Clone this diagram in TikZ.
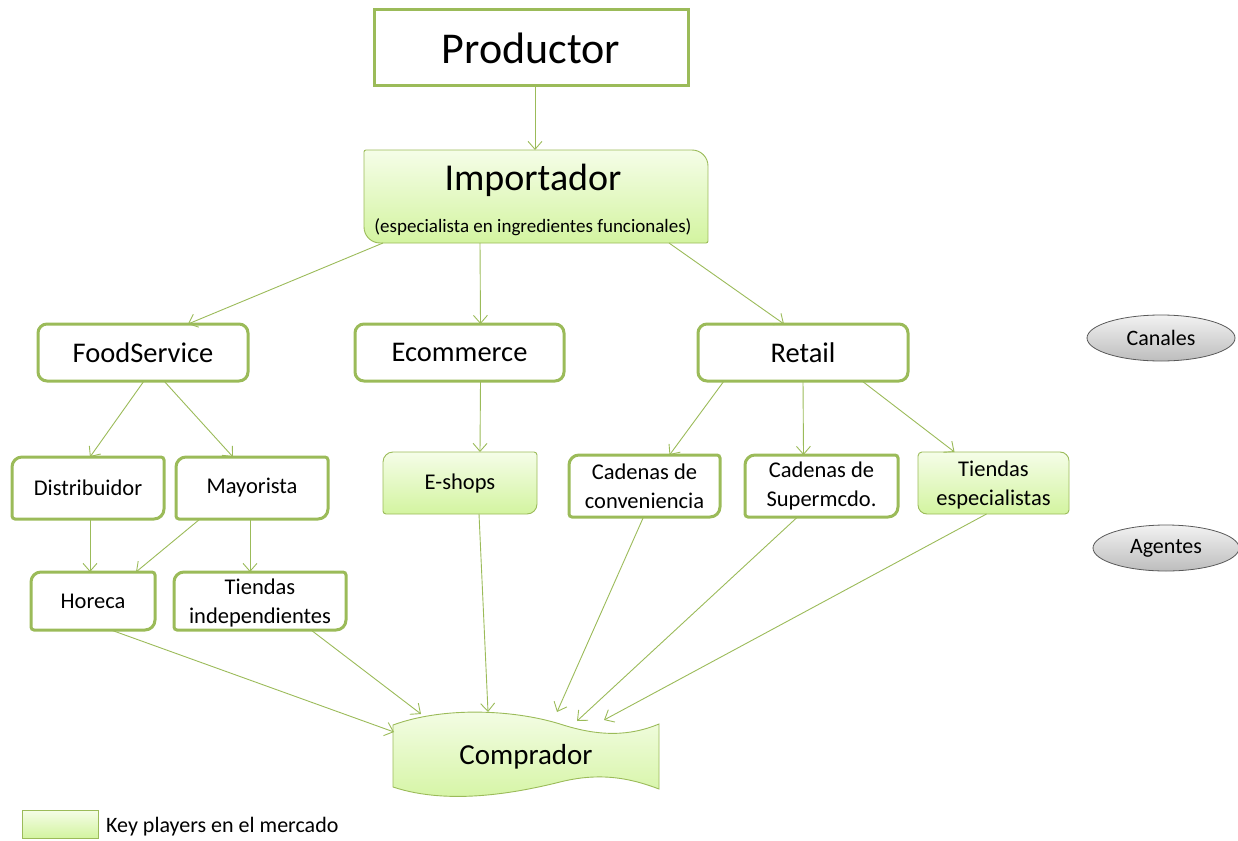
\documentclass[tikz,border=0pt]{standalone}
\usepackage{fontspec}
\setmainfont{Carlito}
\usetikzlibrary{arrows.meta,shapes.geometric,calc}
\definecolor{og}{HTML}{9BBB59}
\definecolor{lgtop}{HTML}{F5FDE8}
\definecolor{lgbot}{HTML}{D3F4A0}
\definecolor{gytop}{HTML}{F2F2F2}
\definecolor{gybot}{HTML}{BDBDBD}
% outline with radius #3 at top-left/bottom-right and #4 at top-right/bottom-left
\newcommand\boxoutline[4]{%
  \path[#1] (#2.north) [rounded corners=#4] -- (#2.north east) -- (#2.east)
    [rounded corners=#3] -- (#2.south east) -- (#2.south)
    [rounded corners=#4] -- (#2.south west) -- (#2.west)
    [rounded corners=#3] -- (#2.north west) -- cycle;}
\begin{document}
\begin{tikzpicture}[x=1pt,y=-1pt,
  boxtxt/.style={align=center, inner sep=0pt, outer sep=0pt, draw=none},
  wline/.style={draw=og, line width=3pt, fill=white},
  gline/.style={draw=og, line width=0.9pt, top color=lgtop, bottom color=lgbot},
  arr/.style={draw=og, line width=0.9pt, -{Straight Barb[length=8pt,width=14pt]}},
  pill/.style={ellipse, draw=black!65, line width=0.8pt, top color=gytop, bottom color=gybot, inner sep=0pt},
  small/.style={font=\fontsize{22.5}{29}\selectfont, align=center},
]
\useasboundingbox (0,0) rectangle (1238,840);

% ---------- nodes (text holders) ----------
\node[boxtxt, minimum width=314pt, minimum height=76pt] (prod) at (531,48) {};
\node[boxtxt, minimum width=344pt, minimum height=93pt] (imp) at (536,196.5) {};
\node[boxtxt, minimum width=210pt, minimum height=57pt] (food) at (143,352.5) {};
\node[boxtxt, minimum width=209pt, minimum height=57pt] (ecom) at (459.5,352.5) {};
\node[boxtxt, minimum width=210pt, minimum height=57pt] (ret) at (803,352.5) {};
\node[boxtxt, minimum width=152pt, minimum height=62pt] (dist) at (88,488) {};
\node[boxtxt, minimum width=152pt, minimum height=62pt] (may) at (252,488) {};
\node[boxtxt, minimum width=154pt, minimum height=62pt] (esh) at (460,483) {};
\node[boxtxt, minimum width=151pt, minimum height=62pt] (conv) at (644.5,486) {};
\node[boxtxt, minimum width=153pt, minimum height=62pt] (sup) at (821.5,486) {};
\node[boxtxt, minimum width=151pt, minimum height=62pt] (esp) at (993.5,483) {};
\node[boxtxt, minimum width=124pt, minimum height=58pt] (hor) at (93,601) {};
\node[boxtxt, minimum width=172pt, minimum height=58pt] (tind) at (260,601) {};

% ---------- outlines ----------
\path[wline] (prod.north west) rectangle (prod.south east);
\boxoutline{gline}{imp}{2pt}{16pt}
\path[wline, rounded corners=9pt] (food.north west) rectangle (food.south east);
\path[wline, rounded corners=9pt] (ecom.north west) rectangle (ecom.south east);
\path[wline, rounded corners=9pt] (ret.north west) rectangle (ret.south east);
\boxoutline{wline}{dist}{10pt}{3pt}
\boxoutline{wline}{may}{10pt}{3pt}
\boxoutline{gline}{esh}{10pt}{3pt}
\boxoutline{wline}{conv}{10pt}{3pt}
\boxoutline{wline}{sup}{10pt}{3pt}
\boxoutline{gline}{esp}{4pt}{9pt}
\boxoutline{wline}{hor}{10pt}{3pt}
\boxoutline{wline}{tind}{10pt}{3pt}

% Comprador wave shape
\path[gline] (393,725) .. controls (445,706) and (515,710) .. (560,724)
  .. controls (600,737) and (630,736) .. (659,724)
  -- (659,789) .. controls (630,778) and (600,772) .. (560,782)
  .. controls (520,792) and (450,806) .. (393,787) -- cycle;
\node[boxtxt, font=\fontsize{29}{33}\selectfont] (comp) at (526,757) {Comprador};
\coordinate (c1) at (394,732);
\coordinate (c2) at (421,714);
\coordinate (c3) at (488,712);
\coordinate (c4) at (557,712);
\coordinate (c5) at (577,721);
\coordinate (c6) at (604,720);

% ---------- texts ----------
\node[font=\fontsize{44}{48}\selectfont] at (prod) {Productor};
\node[font=\fontsize{38}{42}\selectfont] at (533,180) {Importador};
\node[font=\fontsize{19}{22}\selectfont] at (533,227) {(especialista en ingredientes funcionales)};
\node[font=\fontsize{28.5}{32}\selectfont] at (food) {FoodService};
\node[font=\fontsize{28.5}{32}\selectfont] at (ecom) {Ecommerce};
\node[font=\fontsize{28.5}{32}\selectfont] at (ret) {Retail};
\node[small] at (dist) {Distribuidor};
\node[small] at (may) {Mayorista};
\node[small] at (esh) {E-shops};
\node[small] at (conv) {Cadenas de\\conveniencia};
\node[small] at (sup) {Cadenas de\\Supermcdo.};
\node[small] at ([yshift=-2pt]esp.center) {Tiendas\\especialistas};
\node[small] at (hor) {Horeca};
\node[small] at ([yshift=-2pt]tind.center) {Tiendas\\independientes};

% side labels
\node[pill, minimum width=148pt, minimum height=46pt, font=\fontsize{22}{26}\selectfont] (can) at (1161,338) {Canales};
\node[pill, minimum width=146pt, minimum height=46pt, font=\fontsize{22}{26}\selectfont] (age) at (1166,548) {Agentes};

% legend
\node[inner sep=0pt, outer sep=0pt, minimum width=76pt, minimum height=28pt, gline] (leg) at (60,824) {};
\node[anchor=west, font=\fontsize{22}{26}\selectfont, inner sep=0pt] (legt) at (106,827) {Key players en el mercado};

% ---------- connectors ----------
\draw[arr] ([xshift=4pt]prod.south) -- ([xshift=-1pt]imp.north);
\draw[arr] ([xshift=19pt]imp.south west) -- ([xshift=-60pt]food.north east);
\draw[arr] ([xshift=-56pt]imp.south) -- ([xshift=21pt]ecom.north);
\draw[arr] ([xshift=-39pt]imp.south east) -- ([xshift=-19pt]ret.north);
\draw[arr] ([xshift=1pt]food.south) -- ([xshift=2pt]dist.north);
\draw[arr] ([xshift=21pt]food.south) -- ([xshift=-19pt]may.north);
\draw[arr] ([xshift=21pt]ecom.south) -- ([xshift=20pt]esh.north);
\draw[arr] ([xshift=-79pt]ret.south) -- ([xshift=25pt]conv.north);
\draw[arr] (ret.south) -- ([xshift=-18pt]sup.north);
\draw[arr] ([xshift=59pt]ret.south) -- ([xshift=-39pt]esp.north);
\draw[arr] ([xshift=2pt]dist.south) -- ([xshift=-3pt]hor.north);
\draw[arr] ([xshift=-52pt]may.south) -- ([xshift=43pt]hor.north);
\draw[arr] ([xshift=-2pt]may.south) -- ([xshift=-10pt]tind.north);
\draw[arr] ([xshift=18pt]hor.south) -- (c1);
\draw[arr] ([xshift=51pt]tind.south) -- (c2);
\draw[arr] ([xshift=19pt]esh.south) -- (c3);
\draw[arr] ([xshift=-1pt]conv.south) -- (c4);
\draw[arr] ([xshift=-24pt]sup.south) -- (c5);
\draw[arr] ([xshift=-7pt]esp.south) -- (c6);
\end{tikzpicture}
\end{document}
